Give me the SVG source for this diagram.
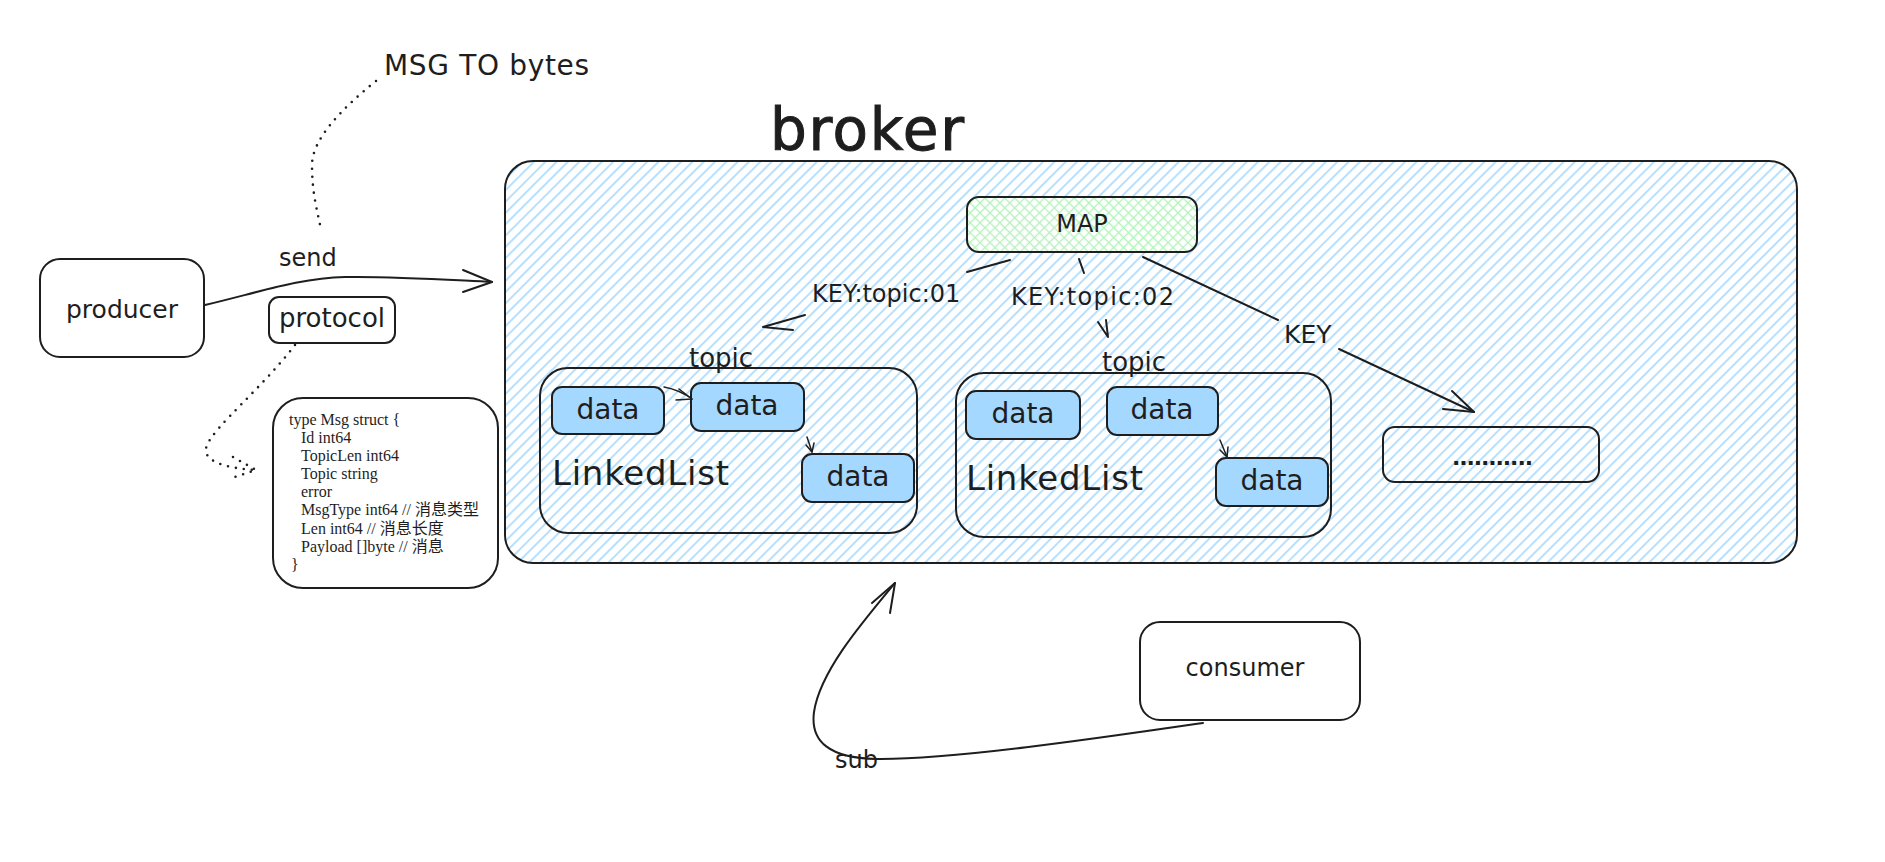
<svg xmlns="http://www.w3.org/2000/svg" width="1885" height="862" viewBox="0 0 1885 862">
<defs>
<pattern id="hatchBlue" patternUnits="userSpaceOnUse" width="8" height="8" patternTransform="rotate(-45)">
<line x1="0" y1="4" x2="8" y2="4" stroke="#a5d8ff" stroke-width="1.6"/>
</pattern>
<pattern id="hatchGreenA" patternUnits="userSpaceOnUse" width="7" height="7" patternTransform="rotate(-45)">
<line x1="0" y1="3.5" x2="7" y2="3.5" stroke="#b2f2bb" stroke-width="1.3"/>
</pattern>
<pattern id="hatchGreenB" patternUnits="userSpaceOnUse" width="7" height="7" patternTransform="rotate(45)">
<line x1="0" y1="3.5" x2="7" y2="3.5" stroke="#b2f2bb" stroke-width="1.3"/>
</pattern>
</defs>
<style>
.box{fill:none;stroke:#1e1e1e;stroke-width:2}
.wbox{fill:#ffffff;stroke:#1e1e1e;stroke-width:2}
.data{fill:#a5d8ff;stroke:#1e1e1e;stroke-width:2}
.hand{font-family:"DejaVu Sans","Noto Sans",sans-serif;fill:#1e1e1e}
.mid{text-anchor:middle}
.dt{font-size:28px}
.code{font-family:"Liberation Serif","Noto Sans CJK SC",serif;font-size:16px;fill:#1e1e1e}
.line{fill:none;stroke:#1e1e1e;stroke-width:2;stroke-linecap:round;stroke-linejoin:round}
.thin{fill:none;stroke:#1e1e1e;stroke-width:1.5;stroke-linecap:round;stroke-linejoin:round}
.dot{fill:none;stroke:#1e1e1e;stroke-width:2.6;stroke-linecap:round;stroke-dasharray:0 8}
</style>
<rect width="1885" height="862" fill="#ffffff"/>

<g id="title">
<text class="hand" x="770" y="150" font-size="58" stroke="#1e1e1e" stroke-width="1" textLength="194">broker</text>
</g>
<g id="broker">
<rect x="505" y="161" width="1292" height="402" rx="28" fill="url(#hatchBlue)" stroke="#1e1e1e" stroke-width="2"/>
</g>
<g id="note-msg">
<text class="hand" x="384" y="75" font-size="28" textLength="205">MSG TO bytes</text>
</g>
<g id="producer">
<rect class="box" x="40" y="259" width="164" height="98" rx="20"/>
<text class="hand mid" x="122" y="318" font-size="25">producer</text>
</g>
<g id="protocol">
<rect class="box" x="269" y="297" width="126" height="46" rx="10"/>
<text class="hand mid" x="332" y="327" font-size="26">protocol</text>
</g>
<g id="msg-struct">
<rect class="wbox" x="273" y="398" width="225" height="190" rx="30"/>
<text class="code" x="289" y="425">type Msg struct {</text>
<text class="code" x="301" y="443">Id int64</text>
<text class="code" x="301" y="461">TopicLen int64</text>
<text class="code" x="301" y="479">Topic string</text>
<text class="code" x="301" y="497">error</text>
<text class="code" x="301" y="515">MsgType int64 // 消息类型</text>
<text class="code" x="301" y="534">Len int64 // 消息长度</text>
<text class="code" x="301" y="552">Payload []byte // 消息</text>
<text class="code" x="291" y="570">}</text>
</g>
<g id="map">
<rect x="967" y="197" width="230" height="55" rx="12" fill="#ffffff"/>
<rect x="967" y="197" width="230" height="55" rx="12" fill="url(#hatchGreenA)"/>
<rect x="967" y="197" width="230" height="55" rx="12" fill="url(#hatchGreenB)" stroke="#1e1e1e" stroke-width="2"/>
<text class="hand mid" x="1082" y="232" font-size="24">MAP</text>
</g>
<g id="topic1">
<rect class="box" x="540" y="368" width="377" height="165" rx="28"/>
<text class="hand mid" x="721" y="367" font-size="26">topic</text>
<text class="hand" x="552" y="485" font-size="34" textLength="177">LinkedList</text>
</g>
<g id="data-1a">
<rect class="data" x="552" y="387" width="112" height="47" rx="10"/>
<text class="hand mid dt" x="608" y="419">data</text>
</g>
<g id="data-1b">
<rect class="data" x="691" y="383" width="113" height="48" rx="10"/>
<text class="hand mid dt" x="747" y="415">data</text>
</g>
<g id="data-1c">
<rect class="data" x="802" y="454" width="112" height="48" rx="10"/>
<text class="hand mid dt" x="858" y="486">data</text>
</g>
<g id="topic2">
<rect class="box" x="956" y="373" width="375" height="164" rx="28"/>
<text class="hand mid" x="1134" y="371" font-size="26">topic</text>
<text class="hand" x="966" y="490" font-size="34" textLength="177">LinkedList</text>
</g>
<g id="data-2a">
<rect class="data" x="966" y="391" width="114" height="48" rx="10"/>
<text class="hand mid dt" x="1023" y="423">data</text>
</g>
<g id="data-2b">
<rect class="data" x="1107" y="387" width="111" height="48" rx="10"/>
<text class="hand mid dt" x="1162" y="419">data</text>
</g>
<g id="data-2c">
<rect class="data" x="1216" y="458" width="112" height="48" rx="10"/>
<text class="hand mid dt" x="1272" y="490">data</text>
</g>
<g id="more">
<rect class="box" x="1383" y="427" width="216" height="55" rx="12"/>
<text class="hand" x="1452" y="465" font-size="22" font-weight="bold" textLength="81">...........</text>
</g>
<g id="consumer">
<rect class="box" x="1140" y="622" width="220" height="98" rx="20"/>
<text class="hand mid" x="1245" y="676" font-size="24">consumer</text>
</g>

<g id="connectors">
<path class="dot" d="M376,81 C340,110 312,140 312,165 C312,195 318,213 321,230"/>
<path class="line" d="M205,305 C260,292 300,278 345,277 C390,276 450,280 492,282"/>
<path class="line" d="M463,270 L492,282 L463,292"/>
<text class="hand" x="279" y="266" font-size="24">send</text>
<path class="dot" d="M295,345 C262,388 216,425 207,445 C200,462 228,468 254,470"/>
<path class="dot" d="M233,457 L256,470 L232,478"/>

<path class="line" d="M1010,260 L967,272"/>
<text class="hand" x="812" y="302" font-size="24">KEY:topic:01</text>
<path class="line" d="M805,315 L763,327 L793,330"/>

<path class="line" d="M1079,259 L1084,273"/>
<text class="hand" x="1011" y="305" font-size="24" textLength="163">KEY:topic:02</text>
<path class="line" d="M1098,322 L1108,337 L1106,320"/>

<path class="line" d="M1143,257 L1278,320"/>
<text class="hand" x="1284" y="343" font-size="25">KEY</text>
<path class="line" d="M1339,349 L1474,412"/>
<path class="line" d="M1452,391 L1474,412 L1443,409"/>

<path class="thin" d="M664,387 Q680,390 692,399"/>
<path class="thin" d="M679,389 L692,399 L676,400"/>
<path class="thin" d="M807,437 L812,452"/>
<path class="thin" d="M806,445 L812,452 L814,443"/>
<path class="thin" d="M1220,440 L1227,457"/>
<path class="thin" d="M1220,450 L1227,457 L1228,447"/>

<path class="line" d="M1203,723 C1100,738 950,760 876,759 C830,758 810,742 814,712 C820,672 860,625 895,583"/>
<path class="line" d="M872,603 L895,583 L890,613"/>
<text class="hand" x="835" y="768" font-size="24">sub</text>
</g>
</svg>
